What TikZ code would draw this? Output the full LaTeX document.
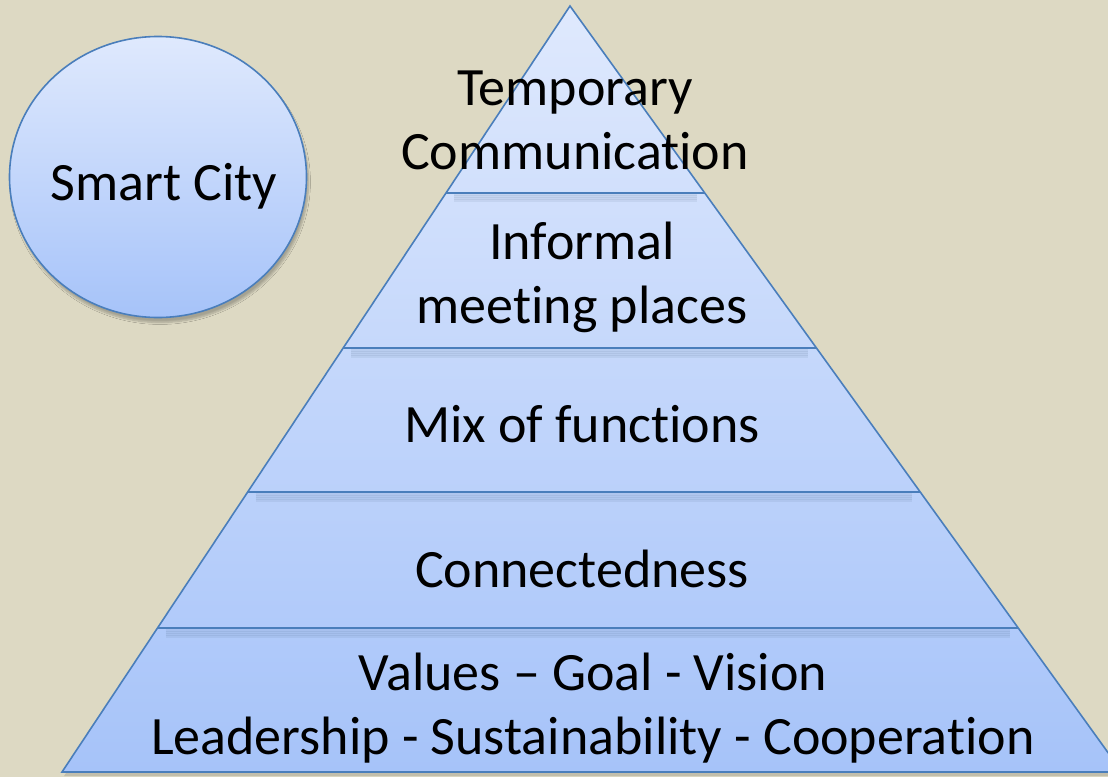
\documentclass[tikz,border=0pt]{standalone}
\usepackage{fontspec}
\setmainfont[Ligatures=NoCommon]{Carlito}
\usetikzlibrary{calc,shadows.blur,shapes.geometric}
\definecolor{bgtan}{HTML}{DDD9C3}
\definecolor{edgeblue}{HTML}{4A7EBB}
\definecolor{lighttop}{HTML}{DFE9FD}
\definecolor{darkbot}{HTML}{A6C3F9}
\tikzset{
  lbl/.style={align=center, font=\fontsize{54}{64}\selectfont, text=black, inner sep=0pt},
  divider/.style={draw=edgeblue, line width=1.6pt},
  dividershadow/.style={draw=black!50!edgeblue, line width=3pt, opacity=0.07},
}
\begin{document}
\begin{tikzpicture}[x=1pt,y=-1pt]
\useasboundingbox (0,0) rectangle (1108,777);
\fill[bgtan] (0,0) rectangle (1108,777);
% pyramid corners
\coordinate (apex) at (570,6);
\coordinate (bl) at (62,772);
\coordinate (br) at (1122,772);
\begin{scope}
\clip (0,0) rectangle (1108,777);
\fill[black, opacity=0.12] ($(apex)+(2,4)$) -- ($(bl)+(2,4)$) -- ($(br)+(2,4)$) -- cycle;
\shade[top color=lighttop, bottom color=darkbot] (apex) -- (bl) -- (br) -- cycle;
% dividers
\foreach \n/\t in {a/0.2441, b/0.4465, c/0.6345, d/0.8120}{
  \coordinate (L\n) at ($(apex)!\t!(bl)$);
  \coordinate (R\n) at ($(apex)!\t!(br)$);
  \foreach \dy in {2,4,6,8}{
    \draw[dividershadow] ($(L\n)+(8,\dy)$) -- ($(R\n)+(-8,\dy)$);
  }
  \draw[divider] (L\n) -- (R\n);
}
\draw[edgeblue, line width=1.6pt, line join=miter] (apex) -- (bl) -- (br) -- cycle;
\end{scope}
% circle
\node[ellipse, minimum width=297pt, minimum height=281pt, inner sep=0pt,
      draw=edgeblue, line width=1.6pt, top color=lighttop, bottom color=darkbot,
      blur shadow={shadow xshift=2pt, shadow yshift=-5pt, shadow blur steps=6, shadow opacity=25}]
      (city) at (158,177) {};
\node[lbl] (citytxt) at (164,186) {Smart City};
% labels
\node[lbl] (t1) at (575,120) {Temporary\\Communication};
\node[lbl] (t2) at (582,277) {Informal\\meeting places};
\node[lbl] (t3) at (582,424) {Mix of functions};
\node[lbl] (t4) at (582,569) {Connectedness};
\node[lbl] (t5) at (593,708) {Values -- Goal - Vision\\Leadership - Sustainability - Cooperation};
\end{tikzpicture}
\end{document}
